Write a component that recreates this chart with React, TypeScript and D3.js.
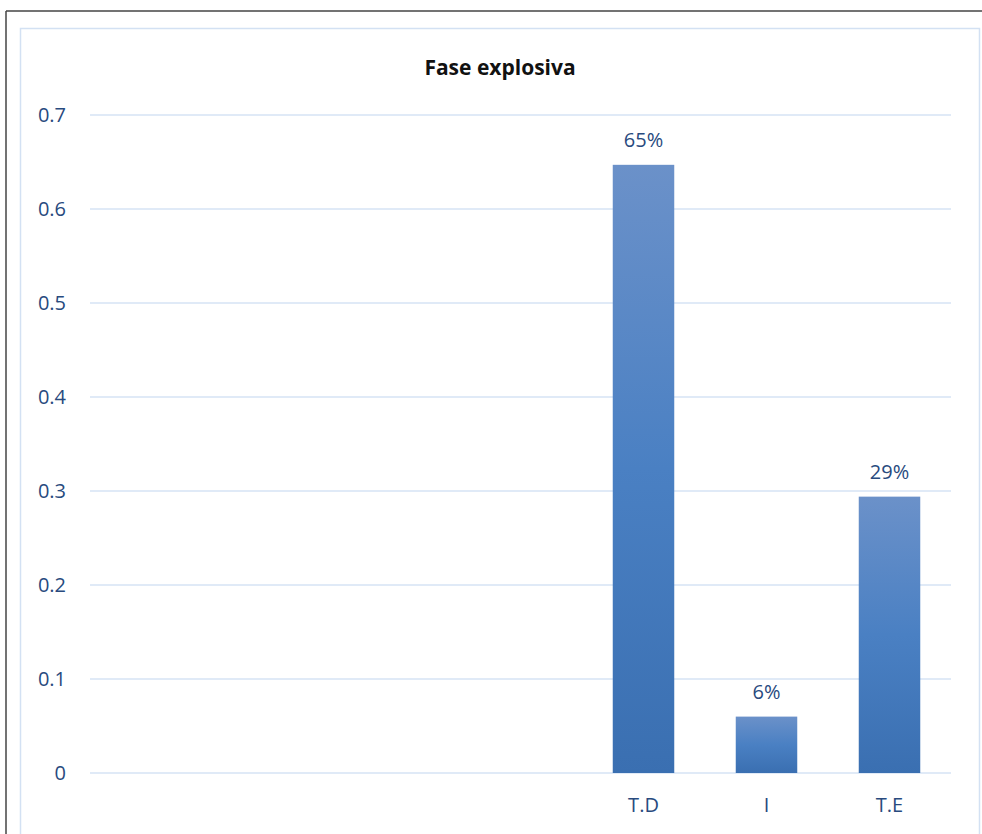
import React from "react";
import * as d3 from "d3";

const categories = ["", "", "", "", "T.D", "I", "T.E"];
const values: (number | null)[] = [null, null, null, null, 0.647, 0.06, 0.294];
const yTicks = [0, 0.1, 0.2, 0.3, 0.4, 0.5, 0.6, 0.7];
const title = "Fase explosiva";

const W = 982;
const H = 834;
const plot = { left: 90, right: 951, top: 115, bottom: 773 };
const FONT = "'Open Sans', 'Noto Sans', sans-serif";
const TEXT = "#284a7e";

export default function App() {
  const x = d3
    .scaleBand<number>()
    .domain(categories.map((_, i) => i))
    .range([plot.left, plot.right])
    .paddingInner(0.5)
    .paddingOuter(0.25);
  const y = d3.scaleLinear().domain([0, 0.7]).range([plot.bottom, plot.top]);
  const fmt = d3.format(".0%");

  return (
    <svg
      width={W}
      height={H}
      style={{ position: "absolute", left: 0, top: 0, background: "#fff" }}
      fontFamily={FONT}
    >
      <defs>
        <linearGradient id="barGrad" x1="0" y1="0" x2="0" y2="1">
          <stop offset="0%" stopColor="#6b91c9" />
          <stop offset="50%" stopColor="#4a80c3" />
          <stop offset="100%" stopColor="#3a6fb1" />
        </linearGradient>
      </defs>
      {/* outer frame */}
      <line x1={6} y1={11} x2={W} y2={11} stroke="#444" strokeWidth={1.5} />
      <line x1={6} y1={11} x2={6} y2={H} stroke="#444" strokeWidth={1.5} />
      {/* inner chart border */}
      <rect x={20.5} y={28.5} width={959} height={H} fill="#fff" stroke="#d3e1f3" strokeWidth={1.5} />

      <text x={500} y={75} textAnchor="middle" fontWeight="bold" fontSize={21} fill="#111">
        {title}
      </text>

      {yTicks.map((t) => (
        <g key={t}>
          <line x1={plot.left} x2={plot.right} y1={y(t)} y2={y(t)} stroke="#d6e3f4" strokeWidth={1.5} />
          <text x={66} y={y(t)} dy="0.36em" textAnchor="end" fontSize={20} fill={TEXT}>
            {String(t)}
          </text>
        </g>
      ))}

      {categories.map((c, i) => {
        const v = values[i];
        const cx = (x(i) as number) + x.bandwidth() / 2;
        return (
          <g key={i}>
            {v != null && (
              <>
                <rect
                  x={x(i)}
                  y={y(v)}
                  width={x.bandwidth()}
                  height={y(0) - y(v)}
                  fill="url(#barGrad)"
                />
                <text x={cx} y={y(v) - 18} textAnchor="middle" fontSize={20} fill={TEXT}>
                  {fmt(v)}
                </text>
              </>
            )}
            {c && (
              <text x={cx} y={812} textAnchor="middle" fontSize={20} fill={TEXT}>
                {c}
              </text>
            )}
          </g>
        );
      })}
    </svg>
  );
}
